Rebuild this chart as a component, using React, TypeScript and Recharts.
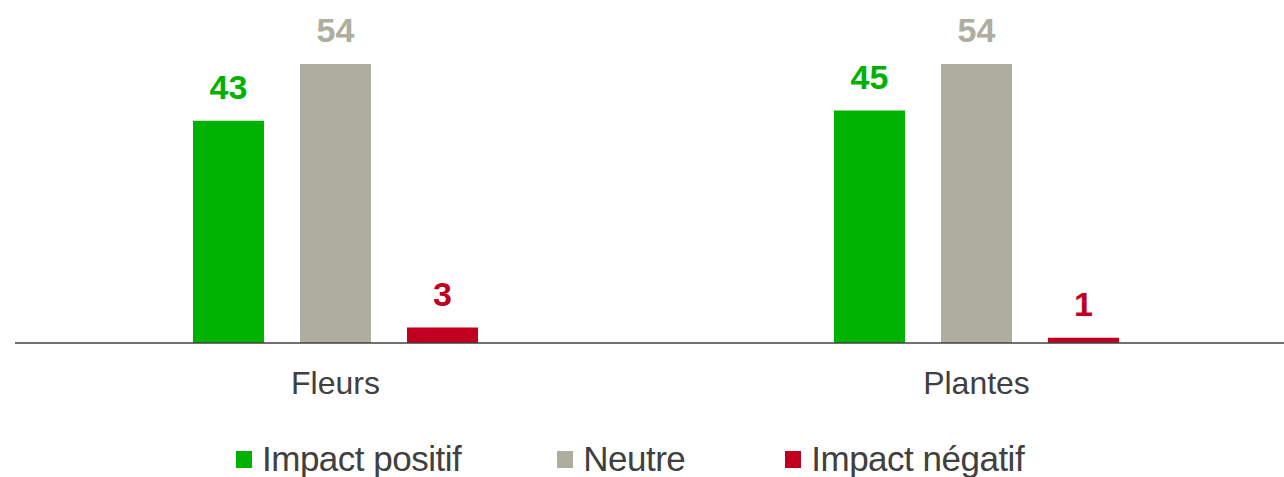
import { BarChart, Bar, XAxis, YAxis, Legend, LabelList } from 'recharts';

const categories = ['Fleurs', 'Plantes'];
const positif = [43, 45];
const neutre = [54, 54];
const negatif = [3, 1];

const series = [
  { key: 'positif', name: 'Impact positif', color: '#00B200' },
  { key: 'neutre', name: 'Neutre', color: '#ADAE9F' },
  { key: 'negatif', name: 'Impact négatif', color: '#C0001E' },
];

const data = categories.map((c, i) => ({
  name: c,
  positif: positif[i],
  neutre: neutre[i],
  negatif: negatif[i],
}));

const font = '"Liberation Sans", Arial, sans-serif';

function LegendBox() {
  return (
    <div style={{ display: 'flex', marginLeft: 236, fontFamily: font, fontSize: 35, color: '#404040' }}>
      {series.map((s, i) => (
        <div key={s.key} style={{ display: 'flex', alignItems: 'center', marginRight: i === 0 ? 96 : 100 }}>
          <span style={{ width: 16, height: 17, background: s.color, marginRight: 10, display: 'inline-block' }} />
          <span style={{ letterSpacing: -0.5 }}>{s.name}</span>
        </div>
      ))}
    </div>
  );
}

export default function App() {
  return (
    <div style={{ position: 'absolute', left: 0, top: 0, width: 1284, height: 477, overflow: 'hidden', background: '#fff' }}>
      <BarChart
        width={1300}
        height={477}
        data={data}
        margin={{ top: 33, right: 3, left: 15, bottom: 0 }}
        barSize={71}
        barGap={36}
      >
        <XAxis
          dataKey="name"
          axisLine={{ stroke: '#404040', strokeWidth: 1.5 }}
          tickLine={false}
          tick={{ fill: '#404040', fontSize: 32, fontFamily: font }}
          tickMargin={22}
          height={94}
        />
        <YAxis hide domain={[0, 60]} />
        <Legend
          verticalAlign="bottom"
          align="left"
          content={() => <LegendBox />}
          wrapperStyle={{ left: 0, bottom: -2, width: 1284 }}
        />
        {series.map((s) => (
          <Bar key={s.key} dataKey={s.key} name={s.name} fill={s.color} isAnimationActive={false}>
            <LabelList
              dataKey={s.key}
              position="top"
              offset={22}
              fill={s.color}
              style={{ fontSize: 34, fontWeight: 'bold', fontFamily: font }}
            />
          </Bar>
        ))}
      </BarChart>
    </div>
  );
}
